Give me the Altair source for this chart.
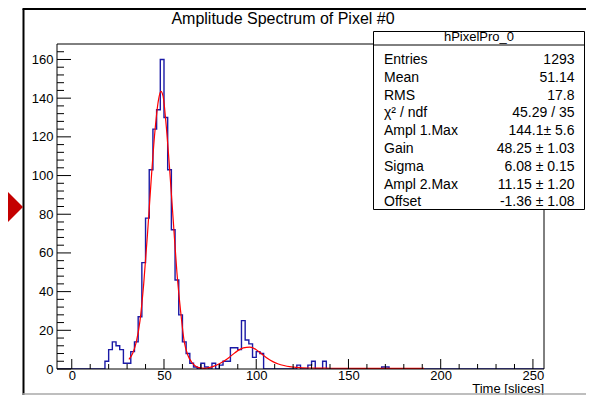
import altair as alt
import pandas as pd

# ---------------- data ----------------
# histogram bins (lower edge, width 2) that are non-zero
bin_lo = [18, 20, 22, 24, 26, 28, 30, 32, 34, 36, 38, 40, 42, 44, 46, 48, 50, 52,
          54, 56, 58, 60, 62, 64, 66, 70, 72, 76, 80, 82, 84, 86, 88, 90, 92, 94,
          96, 98, 100, 102, 122, 128, 130, 136, 168, 170]
counts = [4, 10, 14, 12, 10, 3, 3, 9, 14, 27, 55, 78, 103, 124, 134, 160, 130, 103,
          72, 46, 28, 14, 8, 3, 1, 3, 1, 3, 2, 4, 4, 11, 11, 10, 25, 15,
          13, 6, 9, 8, 2, 2, 4, 4, 1, 1]

# fitted curve (red)
fit_x = [31, 33, 35, 37, 39, 41, 43, 45, 47, 48.3, 49.5, 51, 53, 55, 57, 59, 61, 63,
         65, 67, 69, 72, 75, 78, 81, 84, 87, 90, 93, 96.5, 100, 103, 106, 109, 112,
         115, 118, 121, 125, 130, 140, 160, 191]
fit_y = [5, 8, 14, 25, 44, 69, 97, 122, 139, 143.5, 141, 128, 104, 77, 50, 30, 14, 7,
         3.5, 1.6, 0.7, 0.3, 0.8, 1.8, 3.2, 5, 7.3, 9.5, 10.9, 11.3, 10, 7.8, 5.5, 3.8, 2.6,
         1.8, 1.2, 0.9, 0.6, 0.5, 0.4, 0.3, 0.3]

x_major = [0, 50, 100, 150, 200, 250]
x_minor = [10, 20, 30, 40, 60, 70, 80, 90, 110, 120, 130, 140, 160, 170, 180, 190,
           210, 220, 230, 240]
y_major = [0, 20, 40, 60, 80, 100, 120, 140, 160]
y_minor = [v for v in range(4, 168, 4) if v % 20 != 0]

title_text = "Amplitude Spectrum of Pixel #0"
x_title = "Time [slices]"
stat_name = "hPixelPro_0"
stat_labels = ["Entries", "Mean", "RMS", "\u03c7\u00b2 / ndf", "Ampl 1.Max", "Gain",
               "Sigma", "Ampl 2.Max", "Offset"]
stat_values = ["1293", "51.14", "17.8", "45.29 / 35", "144.1\u00b1 5.6",
               "48.25 \u00b1 1.03", "6.08 \u00b1 0.15", "11.15 \u00b1 1.20",
               "-1.36 \u00b1 1.08"]

# ---------------- layout ----------------
FONT = "Liberation Sans"
W, H = 487, 325
PL, PT, PR, PB = 49, 36, 42, 26      # total svg 578 x 387: fits the window without overflow
xs = alt.Scale(domain=[-8, 256], nice=False, zero=False)
ys = alt.Scale(domain=[0, 168], nice=False, zero=False)

full = {lo: 0 for lo in range(-8, 256, 2)}
for lo, c in zip(bin_lo, counts):
    full[lo] = c
hist_df = pd.DataFrame({"x": list(full.keys()) + [256],
                        "y": list(full.values()) + [0]})
fit_df = pd.DataFrame({"x": fit_x, "y": fit_y})
one = pd.DataFrame({"a": [0]})

layers = []

hist = alt.Chart(hist_df).mark_line(
    interpolate="step-after", color="#1a1aa6", strokeWidth=1.4, clip=True
).encode(
    x=alt.X("x:Q", scale=xs, axis=alt.Axis(
        values=x_major, ticks=False, tickSize=0, domain=False, grid=False,
        labelPadding=0, labelFontSize=13, labelFont=FONT, labelColor="#000",
        labelFlush=False, title=None, format="d")),
    y=alt.Y("y:Q", scale=ys, axis=alt.Axis(
        values=y_major, ticks=False, tickSize=0, domain=False, grid=False,
        labelPadding=4, labelFontSize=13, labelFont=FONT, labelColor="#000",
        labelFlush=False, title=None, format="d")),
)
layers.append(hist)

fit = alt.Chart(fit_df).mark_line(
    color="#ff0000", strokeWidth=1.2, interpolate="monotone", clip=True
).encode(x=alt.X("x:Q", scale=xs), y=alt.Y("y:Q", scale=ys))
layers.append(fit)

# plot frame
layers.append(alt.Chart(one).mark_rect(
    fill="white", fillOpacity=0, stroke="black", strokeWidth=1
).encode(x=alt.value(0), x2=alt.value(W), y=alt.value(0), y2=alt.value(H)))

# ticks (inside the frame, ROOT style)
layers.append(alt.Chart(pd.DataFrame({"v": y_major})).mark_rule(color="black").encode(
    y=alt.Y("v:Q", scale=ys), x=alt.value(0), x2=alt.value(14)))
layers.append(alt.Chart(pd.DataFrame({"v": y_minor})).mark_rule(color="black").encode(
    y=alt.Y("v:Q", scale=ys), x=alt.value(0), x2=alt.value(7)))
layers.append(alt.Chart(pd.DataFrame({"v": x_major})).mark_rule(color="black").encode(
    x=alt.X("v:Q", scale=xs), y=alt.value(H), y2=alt.value(H - 10)))
layers.append(alt.Chart(pd.DataFrame({"v": x_minor})).mark_rule(color="black").encode(
    x=alt.X("v:Q", scale=xs), y=alt.value(H), y2=alt.value(H - 5)))

# axis title
layers.append(alt.Chart(one).mark_text(
    text=x_title, font=FONT, fontSize=13, align="right", baseline="alphabetic", color="black"
).encode(x=alt.value(W), y=alt.value(H + 24.2)))

# chart title
layers.append(alt.Chart(one).mark_text(
    text=title_text, font=FONT, fontSize=16, align="center", baseline="alphabetic", color="black"
).encode(x=alt.value(226), y=alt.value(-20.5)))

# canvas border pieces
RIGHT = W + PR
layers.append(alt.Chart(one).mark_rule(color="black", strokeWidth=2).encode(
    x=alt.value(-33.5), y=alt.value(-35), y2=alt.value(H + PB)))
layers.append(alt.Chart(one).mark_rule(color="black", strokeWidth=2).encode(
    x=alt.value(-34.5), x2=alt.value(RIGHT), y=alt.value(-35)))
layers.append(alt.Chart(one).mark_rule(color="#a8a8a8", strokeWidth=1.5).encode(
    x=alt.value(-34.5), x2=alt.value(RIGHT), y=alt.value(H + PB - 1.0)))

# red arrow at the left edge
layers.append(alt.Chart(one).mark_point(
    shape="M-1,-2L1,0L-1,2Z", size=1600, filled=True, color="#c40000", opacity=1
).encode(x=alt.value(-54), y=alt.value(163)))

# statistics box
BX0, BX1, BY0, BY1 = 316.5, RIGHT - 1.5, -12.5, 165.5
layers.append(alt.Chart(one).mark_rect(
    fill="white", stroke="black", strokeWidth=1
).encode(x=alt.value(BX0), x2=alt.value(BX1), y=alt.value(BY0), y2=alt.value(BY1)))
layers.append(alt.Chart(one).mark_rule(color="black", strokeWidth=1).encode(
    x=alt.value(BX0), x2=alt.value(BX1), y=alt.value(1)))
layers.append(alt.Chart(one).mark_text(
    text=stat_name, font=FONT, fontSize=13, align="center", baseline="alphabetic", color="black"
).encode(x=alt.value((BX0 + BX1) / 2), y=alt.value(-3)))
for i, (lab, val) in enumerate(zip(stat_labels, stat_values)):
    yy = 20 + 17.8 * i
    layers.append(alt.Chart(one).mark_text(
        text=lab, font=FONT, fontSize=14, align="left", baseline="alphabetic", color="black"
    ).encode(x=alt.value(327), y=alt.value(yy)))
    layers.append(alt.Chart(one).mark_text(
        text=val, font=FONT, fontSize=14, align="right", baseline="alphabetic", color="black"
    ).encode(x=alt.value(BX1 - 10), y=alt.value(yy)))

chart = alt.layer(*layers).properties(
    width=W, height=H,
    autosize=alt.AutoSizeParams(type="none"),
    padding={"left": PL, "top": PT, "right": PR, "bottom": PB},
    background="white",
).configure_view(stroke=None)

chart.save("out.html", embed_options={"renderer": "svg", "actions": False})
